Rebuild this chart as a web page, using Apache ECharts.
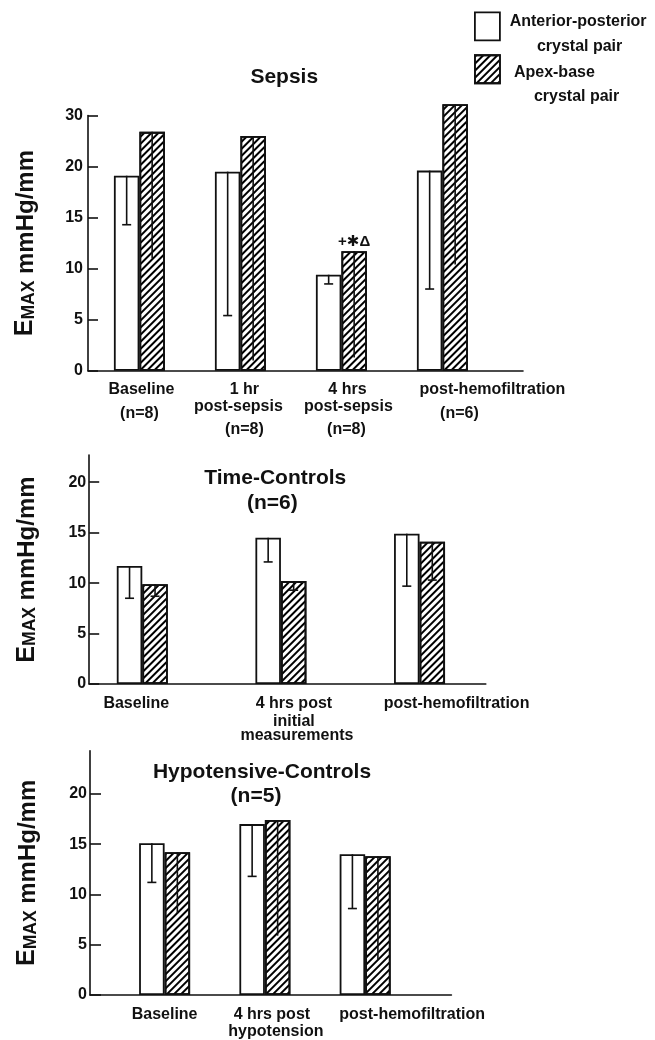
<!DOCTYPE html>
<html>
<head>
<meta charset="utf-8">
<script src="https://cdn.jsdelivr.net/npm/echarts@6/dist/echarts.min.js"></script>
<style>
html,body{margin:0;padding:0;background:#fff;}
#chart{width:655px;height:1040px;}
</style>
</head>
<body>
<div id="chart"></div>
<script>
// ---------------- data ----------------
const seriesNames = ['Anterior-posterior crystal pair', 'Apex-base crystal pair'];
const legendLines = [['Anterior-posterior', 'crystal pair'], ['Apex-base', 'crystal pair']];
const yAxisTitle = ['E', 'MAX', ' mmHg/mm'];

const sepsisTitle = ['Sepsis'];
const sepsisCategories = [['Baseline', '(n=8)'], ['1 hr', 'post-sepsis', '(n=8)'], ['4 hrs', 'post-sepsis', '(n=8)'], ['post-hemofiltration', '(n=6)']];
const sepsisTickValues = [0, 5, 10, 15, 20, 25];
const sepsisTickLabels = ['0', '5', '10', '15', '20', '30'];
const sepsisAP = [19.1, 19.5, 9.4, 19.6];
const sepsisAPErrLow = [14.3, 5.4, 8.5, 8.0];
const sepsisApex = [23.4, 23.0, 11.7, 26.1];
const sepsisApexErrLow = [11.0, 1.0, 1.3, 10.4];
const sepsisApexNotes = ['', '', '+✱Δ', ''];

const timeTitle = ['Time-Controls', '(n=6)'];
const timeCategories = [['Baseline'], ['4 hrs post', 'initial', 'measurements'], ['post-hemofiltration']];
const timeTickValues = [0, 5, 10, 15, 20];
const timeTickLabels = ['0', '5', '10', '15', '20'];
const timeAP = [11.7, 14.5, 14.9];
const timeAPErrLow = [8.5, 12.1, 9.7];
const timeApex = [9.9, 10.2, 14.1];
const timeApexErrLow = [8.7, 9.3, 10.3];

const hypoTitle = ['Hypotensive-Controls', '(n=5)'];
const hypoCategories = [['Baseline'], ['4 hrs post', 'hypotension'], ['post-hemofiltration']];
const hypoTickValues = [0, 5, 10, 15, 20];
const hypoTickLabels = ['0', '5', '10', '15', '20'];
const hypoAP = [15.1, 17.0, 14.0];
const hypoAPErrLow = [11.2, 11.8, 8.6];
const hypoApex = [14.2, 17.4, 13.8];
const hypoApexErrLow = [8.1, 5.9, 3.5];

// ---------------- styling / layout ----------------
const FONT = '"Liberation Sans", Arial, Helvetica, "DejaVu Sans", sans-serif';
const INK = '#111';
const BAR_W = 25.5;
const hatch = { symbol: 'rect', symbolSize: 1, dashArrayX: [1, 0], dashArrayY: [1.2, 2.6], rotation: -Math.PI / 4, color: '#000' };

const panels = [
  { title: sepsisTitle, titleLeft: 250.4, titleTop: 65.2, titleLH: 25, titleShift: [0], titleAlign: 'left',
    grid: { left: 88, top: 115.5, width: 435, height: 255.2 }, xMin: -0.509, xMax: 3.798, yMax: 25,
    cats: sepsisCategories, ticks: sepsisTickValues, tickLabels: sepsisTickLabels, tickMargin: 5, tickLen: 10,
    ap: sepsisAP, apLow: sepsisAPErrLow, apex: sepsisApex, apexLow: sepsisApexErrLow, notes: sepsisApexNotes, apexCap: false,
    catMargin: 10.3,
    lineHeights: [[18, 28.6], [18, 15, 31.6], [18, 15, 31.6], [18, 28.6]],
    shifts: [[2, 0], [4, -2, 4], [6, 7, 5], [50, 17]] },
  { title: timeTitle, titleLeft: 275.3, titleTop: 465.8, titleLH: 25, titleShift: [0, -3], titleAlign: 'center',
    grid: { left: 89.2, top: 455, width: 396.6, height: 229 }, xMin: -0.383, xMax: 2.478, yMax: 22.7,
    cats: timeCategories, ticks: timeTickValues, tickLabels: timeTickLabels, tickMargin: 3, tickLen: 10,
    ap: timeAP, apLow: timeAPErrLow, apex: timeApex, apexLow: timeApexErrLow, notes: null, apexCap: true,
    catMargin: 11,
    lineHeights: [[18], [18, 17.4, 10.6], [18]],
    shifts: [[-6], [13, 13, 16], [37]] },
  { title: hypoTitle, titleLeft: 262, titleTop: 760, titleLH: 24.4, titleShift: [0, -6], titleAlign: 'center',
    grid: { left: 90, top: 750.7, width: 361.4, height: 244.3 }, xMin: -0.744, xMax: 2.86, yMax: 24.3,
    cats: hypoCategories, ticks: hypoTickValues, tickLabels: hypoTickLabels, tickMargin: 3, tickLen: 11,
    ap: hypoAP, apLow: hypoAPErrLow, apex: hypoApex, apexLow: hypoApexErrLow, notes: null, apexCap: false,
    catMargin: 11,
    lineHeights: [[18], [18, 15.4], [18]],
    shifts: [[0], [7, 11], [47]] }
];

function padFor(s) { return s >= 0 ? [0, 0, 0, 2 * s] : [0, -2 * s, 0, 0]; }

function errorRenderer(side, withCap) {
  return function (params, api) {
    const x = api.value(0);
    const pTop = api.coord([x, api.value(1)]);
    const pLow = api.coord([x, api.value(2)]);
    const cx = pTop[0] + side * BAR_W / 2;
    const st = { stroke: INK, lineWidth: 1.6 };
    const children = [{ type: 'line', shape: { x1: cx, y1: pTop[1], x2: cx, y2: pLow[1] }, style: st }];
    if (withCap) children.push({ type: 'line', shape: { x1: cx - 4.5, y1: pLow[1], x2: cx + 4.5, y2: pLow[1] }, style: st });
    return { type: 'group', children: children };
  };
}

const grids = [], xAxes = [], yAxes = [], series = [], titles = [];

panels.forEach(function (p, k) {
  // main grid (bars) and a twin grid that only carries every other category label
  const gMain = grids.length;
  grids.push(Object.assign({ containLabel: false }, p.grid));
  const gLab = grids.length;
  grids.push(Object.assign({ containLabel: false }, p.grid));

  // title
  const tRich = {};
  const tText = p.title.map(function (t, j) {
    tRich['t' + j] = { fontSize: 21, fontWeight: 'bold', fontFamily: FONT, color: INK, lineHeight: p.titleLH, align: 'center', padding: padFor(p.titleShift[j] || 0) };
    return '{t' + j + '|' + t + '}';
  }).join('\n');
  titles.push({ text: tText, left: p.titleLeft, top: p.titleTop, padding: 0, textAlign: p.titleAlign,
    textStyle: { fontSize: 21, fontWeight: 'bold', fontFamily: FONT, color: INK, lineHeight: p.titleLH, rich: tRich } });

  // category label rich styles
  const rich = {};
  p.cats.forEach(function (lines, i) {
    lines.forEach(function (t, j) {
      rich['c' + i + '_' + j] = { fontSize: 16, fontWeight: 'bold', fontFamily: FONT, color: INK, align: 'center',
        lineHeight: p.lineHeights[i][j], padding: padFor(p.shifts[i][j] || 0) };
    });
  });
  const catFormatter = function (v) {
    const i = Math.round(v);
    return p.cats[i].map(function (t, j) { return '{c' + i + '_' + j + '|' + t + '}'; }).join('\n');
  };
  const idx = p.cats.map(function (c, i) { return i; });
  const evenIdx = idx.filter(function (i) { return i % 2 === 0; });
  const oddIdx = idx.filter(function (i) { return i % 2 === 1; });

  const xMain = xAxes.length;
  xAxes.push({
    type: 'value', gridIndex: gMain, min: p.xMin, max: p.xMax,
    axisLine: { show: true, onZero: false, lineStyle: { color: INK, width: 1.6 } },
    axisTick: { show: false }, splitLine: { show: false },
    axisLabel: {
      customValues: evenIdx, showMinLabel: true, showMaxLabel: true, hideOverlap: false,
      margin: p.catMargin, color: INK, fontFamily: FONT, fontSize: 16, fontWeight: 'bold', rich: rich,
      formatter: catFormatter
    }
  });
  xAxes.push({
    type: 'value', gridIndex: gLab, min: p.xMin, max: p.xMax,
    axisLine: { show: false, onZero: false }, axisTick: { show: false }, splitLine: { show: false },
    axisLabel: {
      customValues: oddIdx, showMinLabel: true, showMaxLabel: true, hideOverlap: false,
      margin: p.catMargin, color: INK, fontFamily: FONT, fontSize: 16, fontWeight: 'bold', rich: rich,
      formatter: catFormatter
    }
  });

  const yMain = yAxes.length;
  yAxes.push({
    type: 'value', gridIndex: gMain, min: 0, max: p.yMax,
    axisLine: { show: true, onZero: false, lineStyle: { color: INK, width: 1.6 } },
    axisTick: { show: true, inside: true, length: p.tickLen, customValues: p.ticks, lineStyle: { color: INK, width: 1.6 } },
    axisLabel: { customValues: p.ticks, showMinLabel: true, showMaxLabel: true, margin: p.tickMargin, color: INK, fontFamily: FONT, fontSize: 16, fontWeight: 'bold',
      formatter: function (v) { const t = p.ticks.indexOf(v); return t >= 0 ? p.tickLabels[t] : ''; } },
    splitLine: { show: false },
    name: '{e|' + yAxisTitle[0] + '}{m|' + yAxisTitle[1] + '}{r|' + yAxisTitle[2] + '}',
    nameLocation: 'middle', nameRotate: 90, nameGap: 50,
    nameTextStyle: {
      color: INK, fontFamily: FONT,
      rich: {
        e: { fontSize: 25, lineHeight: 25, fontWeight: 'bold', verticalAlign: 'bottom', fontFamily: FONT, color: INK },
        m: { fontSize: 17.5, lineHeight: 17.5, fontWeight: 'bold', verticalAlign: 'bottom', fontFamily: FONT, color: INK },
        r: { fontSize: 24, lineHeight: 24, fontWeight: 'bold', verticalAlign: 'bottom', fontFamily: FONT, color: INK }
      }
    }
  });
  yAxes.push({ type: 'value', gridIndex: gLab, min: 0, max: p.yMax, show: false });

  series.push({
    type: 'bar', name: seriesNames[0], xAxisIndex: xMain, yAxisIndex: yMain, barWidth: BAR_W, barGap: '0%', clip: false, z: 2,
    itemStyle: { color: '#fff', borderColor: INK, borderWidth: 1.8 },
    emphasis: { disabled: true },
    data: p.ap.map(function (v, i) { return [i, v]; })
  });
  series.push({
    type: 'bar', name: seriesNames[1], xAxisIndex: xMain, yAxisIndex: yMain, barWidth: BAR_W, barGap: '0%', clip: false, z: 2,
    itemStyle: { color: '#fff', borderColor: INK, borderWidth: 1.8, decal: hatch },
    emphasis: { disabled: true },
    data: p.apex.map(function (v, i) {
      if (p.notes && p.notes[i]) {
        return { value: [i, v], label: { show: true, position: 'top', distance: 2, formatter: p.notes[i],
          fontSize: 15, fontWeight: 'bold', color: INK, fontFamily: FONT } };
      }
      return [i, v];
    })
  });
  series.push({
    type: 'custom', xAxisIndex: xMain, yAxisIndex: yMain, z: 5, renderItem: errorRenderer(-1, true),
    encode: { x: 0, y: [1, 2] },
    data: p.ap.map(function (v, i) { return [i, v, p.apLow[i]]; })
  });
  series.push({
    type: 'custom', xAxisIndex: xMain, yAxisIndex: yMain, z: 5, renderItem: errorRenderer(1, p.apexCap),
    encode: { x: 0, y: [1, 2] },
    data: p.apex.map(function (v, i) { return [i, v, p.apexLow[i]]; })
  });
});

const legendText = { fontSize: 16, fontWeight: 'bold', fontFamily: FONT, color: INK };
const legends = [
  { left: 474, top: -6.7, h0: 15.2, lh: 25, pads: [4.8, 32], style: { color: '#fff', borderColor: INK, borderWidth: 1.8 } },
  { left: 474, top: 36.95, h0: 30.9, lh: 24.3, pads: [9, 29], style: { color: '#fff', borderColor: INK, borderWidth: 1.8, decal: hatch } }
].map(function (L, i) {
  return {
    show: true, orient: 'vertical', left: L.left, top: L.top, padding: 0, selectedMode: false,
    icon: 'rect', itemWidth: 25, itemHeight: 28,
    data: [{ name: seriesNames[i], itemStyle: L.style }],
    formatter: function () {
      return '{s| }\n{a|' + legendLines[i][0] + '}\n{b|' + legendLines[i][1] + '}';
    },
    textStyle: Object.assign({}, legendText, {
      rich: {
        s: Object.assign({}, legendText, { lineHeight: L.h0, align: 'left' }),
        a: Object.assign({}, legendText, { lineHeight: L.lh, align: 'left', padding: [0, 0, 0, L.pads[0]] }),
        b: Object.assign({}, legendText, { lineHeight: L.lh, align: 'left', padding: [0, 0, 0, L.pads[1]] })
      }
    })
  };
});

const chart = echarts.init(document.getElementById('chart'), null, { renderer: 'canvas' });
chart.setOption({
  backgroundColor: '#fff',
  animation: false,
  title: titles,
  legend: legends,
  grid: grids,
  xAxis: xAxes,
  yAxis: yAxes,
  series: series
});
</script>
</body>
</html>
